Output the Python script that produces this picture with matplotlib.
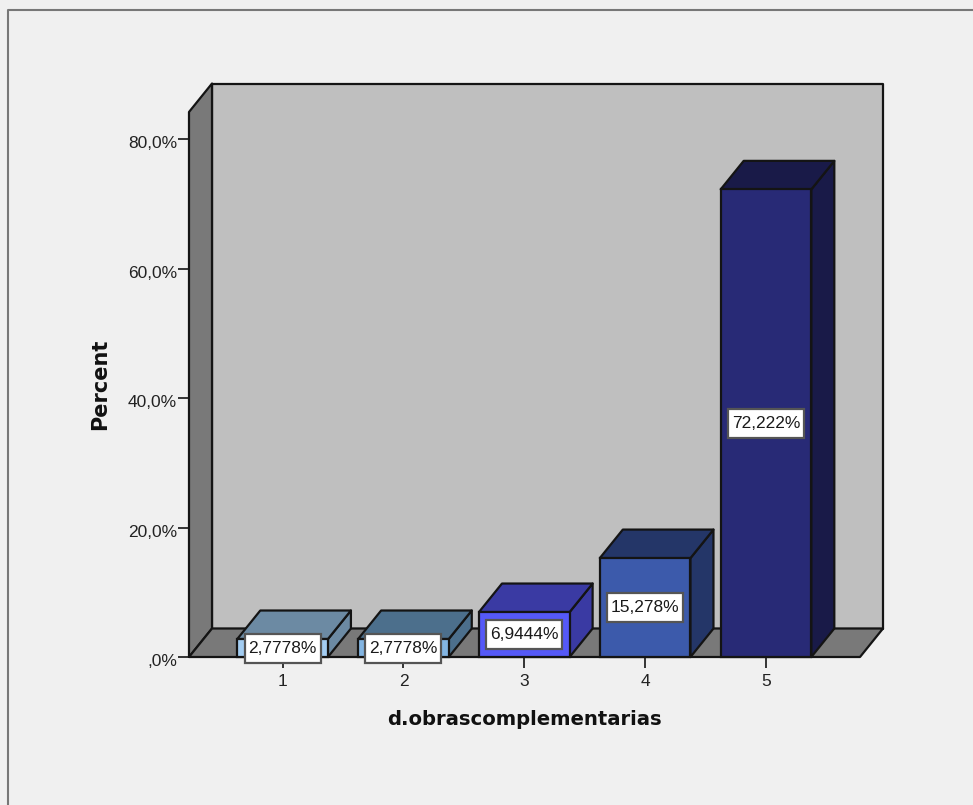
import matplotlib
matplotlib.use("Agg")
import matplotlib.pyplot as plt
from matplotlib.lines import Line2D
from matplotlib.patches import Polygon, Rectangle
from matplotlib.transforms import IdentityTransform, ScaledTranslation

plt.rcParams['font.family'] = ['Liberation Sans', 'DejaVu Sans']

categories = ['1', '2', '3', '4', '5']
percents = [2.7778, 2.7778, 6.9444, 15.278, 72.222]
value_labels = ['2,7778%', '2,7778%', '6,9444%', '15,278%', '72,222%']
y_ticks = [0, 20, 40, 60, 80]
y_tick_labels = [',0%', '20,0%', '40,0%', '60,0%', '80,0%']

front_colors = ['#A3CDF2', '#83B5E2', '#5559F7', '#3C5AAB', '#282A76']
top_colors = ['#6C8AA3', '#4C6F8C', '#3A3AA3', '#243668', '#191A48']

BG = '#F0F0F0'
W, H = 973, 805
X0, X1, Y0, Y_TOP = 189, 860, 657, 112   # front plane of the box, in pixels
PX_PER_CAT = 120.85
PX_PER_PCT = 6.475
FIRST_CAT_PX = 282.6

fig = plt.figure(figsize=(W / 100, H / 100), dpi=100, facecolor=BG)
ax = fig.add_axes([X0 / W, (H - Y0) / H, (X1 - X0) / W, (Y0 - Y_TOP) / H])
ax.set_xlim((X0 - FIRST_CAT_PX) / PX_PER_CAT, (X1 - FIRST_CAT_PX) / PX_PER_CAT)
ax.set_ylim(0, (Y0 - Y_TOP) / PX_PER_PCT)
ax.patch.set_visible(False)
for s in ax.spines.values():
    s.set_visible(False)

# depth of the fake 3d box, data units
dx = 23 / PX_PER_CAT
dy = 28.5 / PX_PER_PCT
xa, xb = ax.get_xlim()
yb = ax.get_ylim()[1]

edge = '#141414'
lw = 1.6


def face(points, color, z):
    ax.add_patch(Polygon(points, closed=True, facecolor=color, edgecolor=edge,
                         linewidth=lw, joinstyle='round', clip_on=False, zorder=z))


# back wall, side wall, floor
face([(xa + dx, dy), (xb + dx, dy), (xb + dx, yb + dy), (xa + dx, yb + dy)], '#BFBFBF', 1)
face([(xa, 0), (xa + dx, dy), (xa + dx, yb + dy), (xa, yb)], '#797979', 2)
face([(xa, 0), (xb, 0), (xb + dx, dy), (xa + dx, dy)], '#797979', 2)

bar_w = 0.75
positions = list(range(len(percents)))
for i, v in enumerate(percents):
    l = i - bar_w / 2
    r = i + bar_w / 2
    z = 3 + i
    face([(r, 0), (r + dx, dy), (r + dx, v + dy), (r, v)], top_colors[i], z)
    face([(l, v), (r, v), (r + dx, v + dy), (l + dx, v + dy)], top_colors[i], z)
    ax.bar(i, v, width=bar_w, color=front_colors[i], edgecolor=edge, linewidth=lw,
           clip_on=False, zorder=z)

    # label box has a fixed pixel size, centred on the bar front
    cx, cy = ax.transData.transform((i, v / 2))
    ax.add_patch(Rectangle((cx - 38, cy - 14.5), 76, 29, transform=IdentityTransform(),
                           facecolor='white', edgecolor='#555555', linewidth=1.6,
                           clip_on=False, zorder=19))
    ax.text(i, v / 2, value_labels[i], ha='center', va='center', fontsize=12.5,
            color='#1A1A1A', zorder=20, clip_on=False)

ax.set_xticks(positions)
ax.set_xticklabels(categories)
ax.set_yticks(y_ticks)
ax.set_yticklabels(y_tick_labels)
ax.tick_params(axis='both', length=8, width=1.4, color='#333333', labelsize=12.5,
               labelcolor='#222222', pad=0.5)
ax.tick_params(axis='x', pad=4.5)

# y tick labels sit a little below their ticks
down = ScaledTranslation(0, -3 / 100, fig.dpi_scale_trans)
for t in ax.get_yticklabels():
    t.set_transform(t.get_transform() + down)

ax.set_xlabel('d.obrascomplementarias', fontsize=14.1, fontweight='bold',
              family='DejaVu Sans', labelpad=14.5, color='#111111')
ax.set_ylabel('Percent', fontsize=15, fontweight='bold', family='DejaVu Sans',
              labelpad=13, color='#111111')

# outer frame runs off the right and bottom edges
fig.add_artist(Line2D([8 / W, 8 / W, 1], [0, 1 - 10 / H, 1 - 10 / H], color='#777777', linewidth=1.5))

plt.savefig('out.png', dpi=100, facecolor=BG)
plt.close()
